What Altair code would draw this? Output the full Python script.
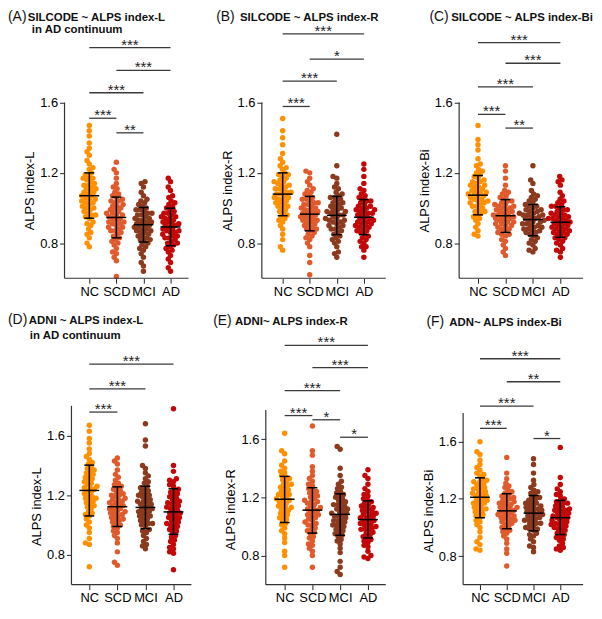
import math
import altair as alt
import pandas as pd

GROUPS = ["NC", "SCD", "MCI", "AD"]
COLORS = ["#FF9000", "#E05A2B", "#8C3A1E", "#C40808"]

# ---------------- data ----------------
# (A) SILCODE ~ ALPS index-L
NC_A = [0.78,0.80,0.83,0.85,0.86,0.88,0.90,0.91,0.92,0.94,0.95,0.96,0.96,0.97,0.98,0.99,1.00,1.00,1.01,1.02,1.03,1.03,1.04,1.05,1.05,1.06,1.07,1.07,1.08,1.09,1.09,1.10,1.11,1.11,1.12,1.13,1.13,1.14,1.15,1.16,1.17,1.17,1.18,1.19,1.20,1.22,1.23,1.25,1.27,1.30,1.32,1.34,1.37,1.41,1.44,1.47]
SCD_A = [0.61,0.70,0.72,0.74,0.75,0.77,0.79,0.80,0.81,0.82,0.83,0.84,0.85,0.86,0.87,0.87,0.88,0.89,0.89,0.90,0.91,0.91,0.92,0.92,0.93,0.94,0.94,0.95,0.96,0.96,0.97,0.97,0.98,0.99,0.99,1.00,1.01,1.01,1.02,1.03,1.04,1.04,1.05,1.06,1.07,1.08,1.09,1.11,1.12,1.14,1.17,1.20,1.22,1.26]
MCI_A = [0.64,0.67,0.69,0.72,0.74,0.76,0.77,0.78,0.79,0.80,0.81,0.82,0.82,0.83,0.84,0.84,0.85,0.86,0.86,0.87,0.87,0.88,0.88,0.89,0.89,0.90,0.90,0.91,0.91,0.92,0.92,0.93,0.93,0.94,0.94,0.95,0.96,0.96,0.97,0.97,0.98,0.99,0.99,1.00,1.01,1.02,1.03,1.04,1.05,1.07,1.09,1.12,1.14,1.15]
AD_A = [0.64,0.66,0.69,0.71,0.73,0.75,0.76,0.77,0.78,0.79,0.80,0.80,0.81,0.82,0.83,0.83,0.84,0.84,0.85,0.86,0.86,0.87,0.87,0.88,0.88,0.89,0.90,0.90,0.91,0.91,0.92,0.92,0.93,0.94,0.94,0.95,0.95,0.96,0.97,0.97,0.98,0.99,1.00,1.01,1.02,1.03,1.04,1.06,1.07,1.10,1.12,1.15,1.17]
MEAN_A = [1.070, 0.946, 0.905, 0.892]
LO_A = [0.942, 0.830, 0.806, 0.785]
HI_A = [1.200, 1.062, 1.003, 0.999]
SIG_A = [(0, 3, 1.913, "***"), (1, 3, 1.783, "***"), (0, 2, 1.656, "***"), (0, 1, 1.511, "***"), (1, 2, 1.428, "**")]

# (B) SILCODE ~ ALPS index-R
NC_B = [0.76,0.78,0.82,0.85,0.88,0.90,0.92,0.93,0.94,0.95,0.96,0.97,0.98,0.99,1.00,1.01,1.01,1.02,1.03,1.03,1.04,1.05,1.05,1.06,1.06,1.07,1.08,1.08,1.09,1.09,1.10,1.11,1.11,1.12,1.13,1.13,1.14,1.15,1.15,1.16,1.17,1.18,1.19,1.19,1.20,1.22,1.23,1.24,1.26,1.28,1.31,1.36,1.40,1.44,1.51]
SCD_B = [0.62,0.69,0.73,0.78,0.80,0.82,0.83,0.84,0.85,0.86,0.87,0.88,0.88,0.89,0.90,0.90,0.91,0.92,0.92,0.93,0.93,0.94,0.94,0.95,0.95,0.96,0.96,0.97,0.97,0.98,0.98,0.99,0.99,1.00,1.00,1.01,1.02,1.02,1.03,1.03,1.04,1.05,1.05,1.06,1.07,1.08,1.09,1.10,1.11,1.13,1.15,1.17,1.20,1.21]
MCI_B = [0.72,0.74,0.75,0.78,0.80,0.81,0.82,0.83,0.84,0.85,0.86,0.87,0.88,0.88,0.89,0.90,0.90,0.91,0.92,0.92,0.93,0.93,0.94,0.94,0.95,0.96,0.96,0.97,0.97,0.98,0.98,0.99,0.99,1.00,1.01,1.01,1.02,1.03,1.03,1.04,1.05,1.06,1.06,1.07,1.08,1.09,1.11,1.12,1.14,1.17,1.18,1.24,1.42]
AD_B = [0.72,0.76,0.78,0.78,0.80,0.81,0.82,0.83,0.84,0.85,0.86,0.87,0.87,0.88,0.89,0.89,0.90,0.90,0.91,0.91,0.92,0.92,0.93,0.93,0.94,0.94,0.95,0.96,0.96,0.97,0.97,0.98,0.98,0.99,0.99,1.00,1.00,1.01,1.01,1.02,1.03,1.04,1.04,1.05,1.06,1.07,1.08,1.10,1.11,1.14,1.18,1.22,1.25]
MEAN_B = [1.079, 0.965, 0.958, 0.947]
LO_B = [0.956, 0.870, 0.848, 0.848]
HI_B = [1.200, 1.066, 1.066, 1.048]
SIG_B = [(0, 3, 1.991, "***"), (1, 3, 1.848, "*"), (0, 2, 1.722, "***"), (0, 1, 1.578, "***")]

# (C) SILCODE ~ ALPS index-Bi
NC_C = [0.84,0.85,0.87,0.89,0.91,0.93,0.94,0.95,0.96,0.97,0.98,0.98,0.99,1.00,1.01,1.01,1.02,1.03,1.03,1.04,1.04,1.05,1.05,1.06,1.07,1.07,1.08,1.08,1.09,1.09,1.10,1.10,1.11,1.12,1.12,1.13,1.13,1.14,1.15,1.15,1.16,1.17,1.18,1.19,1.20,1.21,1.22,1.24,1.25,1.28,1.33,1.36,1.39,1.47]
SCD_C = [0.73,0.75,0.77,0.79,0.81,0.82,0.84,0.85,0.85,0.86,0.87,0.88,0.88,0.89,0.90,0.90,0.91,0.91,0.92,0.92,0.93,0.93,0.94,0.94,0.95,0.95,0.95,0.96,0.96,0.97,0.97,0.98,0.98,0.99,0.99,1.00,1.00,1.01,1.01,1.02,1.02,1.03,1.04,1.04,1.05,1.06,1.07,1.08,1.09,1.10,1.13,1.17,1.21,1.24]
MCI_C = [0.75,0.76,0.77,0.79,0.80,0.81,0.82,0.83,0.84,0.85,0.86,0.86,0.87,0.87,0.88,0.88,0.89,0.89,0.90,0.90,0.91,0.91,0.92,0.92,0.93,0.93,0.94,0.94,0.95,0.95,0.96,0.96,0.96,0.97,0.97,0.98,0.98,0.99,0.99,1.00,1.01,1.01,1.02,1.03,1.04,1.05,1.06,1.07,1.08,1.10,1.14,1.16,1.24]
AD_C = [0.72,0.75,0.76,0.77,0.79,0.80,0.81,0.82,0.83,0.83,0.84,0.85,0.85,0.86,0.86,0.87,0.87,0.88,0.88,0.89,0.89,0.90,0.90,0.91,0.91,0.92,0.92,0.93,0.93,0.94,0.94,0.94,0.95,0.95,0.96,0.96,0.97,0.97,0.98,0.99,0.99,1.00,1.01,1.01,1.02,1.03,1.04,1.05,1.07,1.09,1.13,1.15,1.16,1.18]
MEAN_C = [1.073, 0.956, 0.934, 0.919]
LO_C = [0.961, 0.861, 0.842, 0.833]
HI_C = [1.185, 1.048, 1.020, 1.007]
SIG_C = [(0, 3, 1.941, "***"), (1, 3, 1.824, "***"), (0, 2, 1.689, "***"), (0, 1, 1.533, "***"), (1, 2, 1.455, "**")]

# (D) ADNI ~ ALPS index-L
NC_D = [0.72,0.87,0.88,0.91,0.95,0.98,1.00,1.02,1.04,1.06,1.07,1.08,1.09,1.11,1.12,1.13,1.14,1.15,1.16,1.17,1.18,1.18,1.19,1.20,1.21,1.22,1.23,1.24,1.25,1.25,1.26,1.27,1.28,1.29,1.30,1.31,1.32,1.33,1.34,1.35,1.36,1.37,1.38,1.39,1.41,1.42,1.44,1.46,1.48,1.51,1.55,1.58,1.63,1.67]
SCD_D = [0.73,0.75,0.82,0.88,0.91,0.93,0.95,0.96,0.98,0.99,1.00,1.01,1.02,1.03,1.04,1.04,1.05,1.06,1.07,1.07,1.08,1.09,1.09,1.10,1.11,1.11,1.12,1.13,1.13,1.14,1.15,1.15,1.16,1.17,1.17,1.18,1.19,1.20,1.20,1.21,1.22,1.23,1.24,1.25,1.26,1.27,1.28,1.30,1.32,1.34,1.37,1.41,1.43,1.45]
MCI_D = [0.84,0.86,0.87,0.89,0.91,0.93,0.95,0.96,0.97,0.99,1.00,1.01,1.01,1.02,1.03,1.04,1.05,1.06,1.06,1.07,1.08,1.09,1.09,1.10,1.11,1.11,1.12,1.13,1.14,1.14,1.15,1.16,1.16,1.17,1.18,1.19,1.20,1.20,1.21,1.22,1.23,1.24,1.25,1.26,1.28,1.29,1.31,1.33,1.35,1.38,1.40,1.53,1.57,1.68]
AD_D = [0.70,0.81,0.82,0.84,0.85,0.87,0.89,0.90,0.92,0.93,0.95,0.96,0.97,0.98,0.99,1.00,1.01,1.01,1.02,1.03,1.04,1.05,1.05,1.06,1.07,1.08,1.08,1.09,1.10,1.11,1.12,1.12,1.13,1.14,1.15,1.15,1.16,1.17,1.18,1.19,1.20,1.21,1.22,1.23,1.24,1.26,1.27,1.29,1.30,1.31,1.36,1.40,1.78]
MEAN_D = [1.232, 1.123, 1.118, 1.088]
LO_D = [1.061, 0.990, 0.975, 0.938]
HI_D = [1.402, 1.256, 1.260, 1.243]
SIG_D = [(0, 3, 2.08, "***"), (0, 2, 1.914, "***"), (0, 1, 1.758, "***")]

# (E) ADNI~ ALPS index-R
NC_E = [0.72,0.80,0.83,0.89,0.92,0.95,0.97,0.99,1.01,1.02,1.04,1.05,1.06,1.07,1.08,1.09,1.10,1.11,1.12,1.13,1.13,1.14,1.15,1.16,1.17,1.18,1.18,1.19,1.20,1.21,1.22,1.22,1.23,1.24,1.25,1.26,1.27,1.28,1.29,1.29,1.31,1.32,1.33,1.34,1.35,1.37,1.38,1.40,1.42,1.45,1.50,1.52,1.64]
SCD_E = [0.72,0.80,0.83,0.85,0.87,0.88,0.90,0.92,0.93,0.95,0.96,0.97,0.98,0.99,1.01,1.01,1.02,1.03,1.04,1.05,1.06,1.07,1.08,1.08,1.09,1.10,1.11,1.12,1.12,1.13,1.14,1.15,1.16,1.17,1.17,1.18,1.19,1.20,1.21,1.22,1.23,1.24,1.25,1.26,1.28,1.29,1.31,1.33,1.35,1.38,1.41,1.49,1.52,1.69]
MCI_E = [0.67,0.69,0.72,0.76,0.82,0.85,0.88,0.90,0.91,0.93,0.94,0.95,0.96,0.97,0.98,0.99,1.00,1.01,1.01,1.02,1.03,1.04,1.04,1.05,1.06,1.07,1.07,1.08,1.09,1.09,1.10,1.11,1.12,1.12,1.13,1.14,1.15,1.15,1.16,1.17,1.18,1.19,1.20,1.21,1.22,1.23,1.24,1.26,1.27,1.29,1.31,1.35,1.40,1.53,1.55]
AD_E = [0.78,0.79,0.80,0.83,0.86,0.87,0.89,0.90,0.91,0.92,0.93,0.94,0.95,0.96,0.97,0.98,0.98,0.99,1.00,1.00,1.01,1.02,1.02,1.03,1.04,1.04,1.05,1.06,1.06,1.07,1.08,1.08,1.09,1.10,1.10,1.11,1.12,1.13,1.13,1.14,1.15,1.16,1.17,1.18,1.19,1.21,1.22,1.24,1.26,1.29,1.33,1.35,1.39]
MEAN_E = [1.187, 1.112, 1.083, 1.047]
LO_E = [1.027, 0.954, 0.939, 0.921]
HI_E = [1.344, 1.266, 1.224, 1.176]
SIG_E = [(0, 3, 2.244, "***"), (1, 3, 2.091, "***"), (0, 2, 1.933, "***"), (0, 1, 1.762, "***"), (1, 2, 1.733, "*"), (2, 3, 1.613, "*")]

# (F) ADN~ ALPS index-Bi
NC_F = [0.84,0.85,0.88,0.90,0.93,0.97,1.00,1.02,1.04,1.05,1.07,1.08,1.09,1.10,1.11,1.12,1.13,1.13,1.14,1.15,1.16,1.17,1.17,1.18,1.19,1.19,1.20,1.21,1.22,1.22,1.23,1.24,1.24,1.25,1.26,1.27,1.27,1.28,1.29,1.30,1.31,1.32,1.32,1.33,1.34,1.36,1.37,1.38,1.40,1.42,1.44,1.47,1.51,1.53,1.60]
SCD_F = [0.73,0.82,0.85,0.89,0.92,0.94,0.96,0.97,0.98,0.99,1.00,1.01,1.02,1.03,1.04,1.04,1.05,1.06,1.06,1.07,1.08,1.08,1.09,1.09,1.10,1.11,1.11,1.12,1.13,1.13,1.14,1.14,1.15,1.16,1.16,1.17,1.18,1.18,1.19,1.20,1.21,1.21,1.22,1.23,1.24,1.25,1.26,1.28,1.29,1.31,1.34,1.38,1.49]
MCI_F = [0.83,0.86,0.87,0.90,0.92,0.94,0.95,0.96,0.98,0.99,0.99,1.00,1.01,1.02,1.03,1.03,1.04,1.05,1.05,1.06,1.07,1.07,1.08,1.09,1.09,1.10,1.10,1.11,1.12,1.12,1.13,1.13,1.14,1.15,1.15,1.16,1.17,1.17,1.18,1.19,1.20,1.21,1.21,1.23,1.24,1.25,1.26,1.28,1.30,1.33,1.38,1.44,1.48]
AD_F = [0.84,0.85,0.86,0.87,0.89,0.91,0.92,0.93,0.94,0.95,0.96,0.97,0.98,0.99,1.00,1.00,1.01,1.02,1.02,1.03,1.03,1.04,1.05,1.05,1.06,1.07,1.07,1.08,1.08,1.09,1.10,1.10,1.11,1.12,1.12,1.13,1.13,1.14,1.15,1.16,1.17,1.17,1.18,1.19,1.20,1.22,1.23,1.25,1.27,1.30,1.35,1.56]
MEAN_F = [1.211, 1.116, 1.100, 1.068]
LO_F = [1.068, 0.991, 0.976, 0.950]
HI_F = [1.347, 1.236, 1.223, 1.189]
SIG_F = [(0, 3, 2.18, "***"), (1, 3, 2.019, "**"), (0, 2, 1.849, "***"), (0, 1, 1.693, "***"), (2, 3, 1.622, "*")]

# ---------------- layout / style ----------------
FONT = "Liberation Sans"
W = 128          # plot width of every panel
H = 248          # plot height of every panel
DOT_SPACING = 4.2  # px, beeswarm packing distance

PANELS = [
    dict(letter="(A)", t1="SILCODE ~ ALPS index-L", t2="in AD continuum", ylab="ALPS index-L",
         vals=[NC_A, SCD_A, MCI_A, AD_A], mean=MEAN_A, lo=LO_A, hi=HI_A, sig=SIG_A,
         sp=27.3, nc_off=25, xend=125, ymax=2.0, ytop=1.6, aoff=0, tyoff=0,
         lx=-57, bx=-37, t2x=-33, ty=-15, t2y=-2),
    dict(letter="(B)", t1="SILCODE ~ ALPS index-R", t2=None, ylab="ALPS index-R",
         vals=[NC_B, SCD_B, MCI_B, AD_B], mean=MEAN_B, lo=LO_B, hi=HI_B, sig=SIG_B,
         sp=27.3, nc_off=21, xend=125, ymax=2.0, ytop=1.6, aoff=0, tyoff=0,
         lx=-46, bx=-22, t2x=0, ty=-15, t2y=0),
    dict(letter="(C)", t1="SILCODE ~ ALPS index-Bi", t2=None, ylab="ALPS index-Bi",
         vals=[NC_C, SCD_C, MCI_C, AD_C], mean=MEAN_C, lo=LO_C, hi=HI_C, sig=SIG_C,
         sp=27.7, nc_off=19, xend=125, ymax=2.0, ytop=1.6, aoff=0, tyoff=0,
         lx=-30, bx=-8, t2x=0, ty=-15, t2y=0),
    dict(letter="(D)", t1="ADNI ~ ALPS index-L", t2="in AD continuum", ylab="ALPS index-L",
         vals=[NC_D, SCD_D, MCI_D, AD_D], mean=MEAN_D, lo=LO_D, hi=HI_D, sig=SIG_D,
         sp=28.3, nc_off=25, xend=128, ymax=2.25, ytop=1.8, aoff=7, tyoff=11,
         lx=-57, bx=-36, t2x=-35, ty=-19, t2y=-3),
    dict(letter="(E)", t1="ADNI~ ALPS index-R", t2=None, ylab="ALPS index-R",
         vals=[NC_E, SCD_E, MCI_E, AD_E], mean=MEAN_E, lo=LO_E, hi=HI_E, sig=SIG_E,
         sp=28.0, nc_off=23, xend=125, ymax=2.29, ytop=1.8, aoff=4, tyoff=12,
         lx=-49, bx=-27, t2x=0, ty=-18, t2y=0),
    dict(letter="(F)", t1="ADN~ ALPS index-Bi", t2=None, ylab="ALPS index-Bi",
         vals=[NC_F, SCD_F, MCI_F, AD_F], mean=MEAN_F, lo=LO_F, hi=HI_F, sig=SIG_F,
         sp=27.0, nc_off=21, xend=125, ymax=2.32, ytop=1.8, aoff=4, tyoff=12,
         lx=-33, bx=-10, t2x=0, ty=-17, t2y=0),
]


def swarm(vals, ppu_y, d):
    """Beeswarm layout: horizontal pixel offsets so dots do not pile up."""
    ys = [v * ppu_y for v in vals]
    order = sorted(range(len(vals)), key=lambda i: ys[i])
    placed = []
    out = [0.0] * len(vals)
    for i in order:
        y = ys[i]
        near = [(px, py) for px, py in placed if abs(py - y) < d]
        cands = [0.0]
        for px, py in near:
            dx = math.sqrt(max(d * d - (py - y) ** 2, 0))
            cands += [px + dx, px - dx]
        cands.sort(key=lambda c: (abs(c), c))
        for c in cands:
            if all((c - px) ** 2 + (y - py) ** 2 >= d * d - 1e-6 for px, py in near):
                out[i] = c
                break
        placed.append((out[i], y))
    return out


def make_panel(p):
    sp = p["sp"]
    xmin = -p["nc_off"] / sp
    xmax = xmin + W / sp
    ymin, ymax = 0.6, p["ymax"]
    ppu_y = H / (ymax - ymin)
    xax0 = xmin + p["aoff"] / sp
    xax1 = xmin + p["xend"] / sp
    title_y = H - ((ymin + p["ytop"]) / 2 - ymin) * ppu_y + p["tyoff"]

    xs = alt.Scale(domain=[xmin, xmax], nice=False, zero=False)
    ys = alt.Scale(domain=[ymin, ymax], nice=False, zero=False)

    xaxis = alt.Axis(values=[0, 1, 2, 3], labelExpr="['NC','SCD','MCI','AD'][datum.value]",
                     domain=False, grid=False, tickSize=5, tickColor="#222", tickWidth=1,
                     labelPadding=2, labelFontSize=13, labelColor="#000", title="",
                     labelOverlap=False, labelFlush=False, labelFont=FONT)
    yaxis = alt.Axis(values=[0.8, 1.2, 1.6], format=".1f", domain=False, grid=False,
                     tickSize=5, tickColor="#222", tickWidth=1, labelPadding=2,
                     labelFontSize=13, labelColor="#000", labelFont=FONT,
                     title=p["ylab"], titleFontSize=13, titleFontWeight="normal",
                     titleColor="#000", titleFont=FONT, titlePadding=3,
                     titleY=title_y, offset=-p["aoff"])

    def X(f):
        return alt.X(f, type="quantitative", scale=xs, axis=xaxis)

    def Y(f):
        return alt.Y(f, type="quantitative", scale=ys, axis=yaxis)

    rows = []
    for gi, vals in enumerate(p["vals"]):
        offs = swarm(vals, ppu_y, DOT_SPACING)
        for v, o in zip(vals, offs):
            rows.append({"g": GROUPS[gi], "x": gi + o / sp, "y": v})
    pts = pd.DataFrame(rows)

    points = alt.Chart(pts).mark_circle(size=30, opacity=1).encode(
        x=X("x"), y=Y("y"),
        color=alt.Color("g:N", scale=alt.Scale(domain=GROUPS, range=COLORS), legend=None),
    )

    # axis lines
    yline = alt.Chart(pd.DataFrame({"x": [xax0], "y": [0.6], "y2": [p["ytop"]]})).mark_rule(
        color="#333", strokeWidth=1.2).encode(x=X("x"), y=Y("y"), y2="y2:Q")
    xline = alt.Chart(pd.DataFrame({"x": [xax0], "x2": [xax1], "y": [0.6]})).mark_rule(
        color="#333", strokeWidth=1.2).encode(x=X("x"), x2="x2:Q", y=Y("y"))

    # mean +/- SD
    ebar = pd.DataFrame({"x": list(range(4)), "lo": p["lo"], "hi": p["hi"], "m": p["mean"]})
    ebar["m1"] = ebar["x"] - 10 / sp
    ebar["m2"] = ebar["x"] + 10 / sp
    caps = pd.DataFrame({"y": p["lo"] + p["hi"], "x": list(range(4)) * 2})
    caps["c1"] = caps["x"] - 5 / sp
    caps["c2"] = caps["x"] + 5 / sp
    vbar = alt.Chart(ebar).mark_rule(color="#000", strokeWidth=1.5).encode(
        x=X("x"), y=Y("lo"), y2="hi:Q")
    mbar = alt.Chart(ebar).mark_rule(color="#000", strokeWidth=1.5).encode(
        x=X("m1"), x2="m2:Q", y=Y("m"))
    cbar = alt.Chart(caps).mark_rule(color="#000", strokeWidth=1.5).encode(
        x=X("c1"), x2="c2:Q", y=Y("y"))

    # significance brackets
    sig = pd.DataFrame(p["sig"], columns=["a", "b", "y", "lab"])
    sig["xm"] = (sig["a"] + sig["b"]) / 2
    brk = alt.Chart(sig).mark_rule(color="#3a3a3a", strokeWidth=1.3).encode(
        x=X("a"), x2="b:Q", y=Y("y"))
    stars = alt.Chart(sig).mark_text(fontSize=15, color="#222", baseline="alphabetic",
                                     align="center", dy=2, font=FONT).encode(
        x=X("xm"), y=Y("y"), text="lab:N")

    layers = [points, yline, xline, vbar, mbar, cbar, brk, stars]

    # panel titles
    layers.append(alt.Chart(pd.DataFrame({"t": [p["letter"]]})).mark_text(
        align="left", baseline="middle", fontSize=14, color="#111", font=FONT).encode(
        x=alt.value(p["lx"]), y=alt.value(p["ty"]), text="t:N"))
    layers.append(alt.Chart(pd.DataFrame({"t": [p["t1"]]})).mark_text(
        align="left", baseline="middle", fontSize=11.5, fontWeight="bold", color="#111", font=FONT).encode(
        x=alt.value(p["bx"]), y=alt.value(p["ty"] + 1), text="t:N"))
    if p["t2"]:
        layers.append(alt.Chart(pd.DataFrame({"t": [p["t2"]]})).mark_text(
            align="left", baseline="middle", fontSize=11.5, fontWeight="bold", color="#111", font=FONT).encode(
            x=alt.value(p["t2x"]), y=alt.value(p["t2y"]), text="t:N"))

    return alt.layer(*layers).properties(width=W, height=H)


panels = [make_panel(p) for p in PANELS]
chart = alt.concat(*panels, columns=3, spacing={"row": 61, "column": 71}, bounds="flush").properties(
    padding=0
).configure(font=FONT).configure_view(strokeWidth=0)

chart.save("out.html", embed_options={"renderer": "svg", "actions": False})
